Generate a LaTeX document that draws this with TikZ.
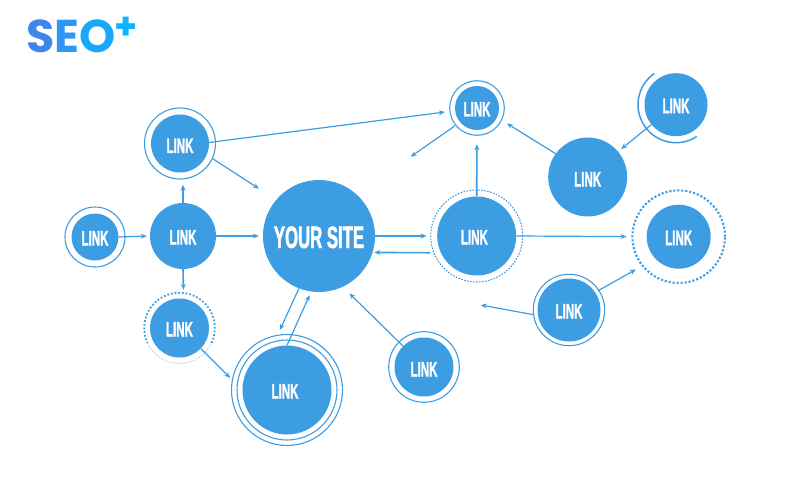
\documentclass[tikz,border=0pt]{standalone}
\usepackage{fontspec}
\newfontfamily\linkfont[FakeStretch=0.55,FakeBold=1.2,UprightFont={* Bold}]{Liberation Sans}
\newfontfamily\sitefont[FakeStretch=0.54,FakeBold=1.5,UprightFont={* Bold}]{Liberation Sans}
\newfontfamily\logofont{Poppins}
\usetikzlibrary{arrows.meta}
\definecolor{linkblue}{HTML}{3D9DE3}
\definecolor{logoS}{HTML}{3F86EC}
\definecolor{logoE}{HTML}{2E96F4}
\definecolor{logoO}{HTML}{18A8FB}
\definecolor{logoP}{HTML}{0DB4FF}
\tikzset{
  linknode/.style={circle, fill=linkblue, text=white, inner sep=0pt, text height=17pt, text depth=0pt, font=\linkfont\fontsize{21}{21}\selectfont},
  lowtext/.style={text height=19pt},
  ringline/.style={draw=linkblue, line width=1.1pt},
  flow/.style={draw=linkblue, line width=1.2pt, -{Stealth[length=6pt,width=5pt]}},
  heavyflow/.style={flow, line width=1.6pt},
}
\begin{document}
\begin{tikzpicture}[x=1pt, y=-1pt]
    \useasboundingbox (0,0) rectangle (800,500);
    % logo
    \node[inner sep=0pt, anchor=base west, font=\logofont\bfseries\fontsize{46}{46}\selectfont] (logo) at (26.5,52.5)
      {\textcolor{logoS}{S}\textcolor{logoE}{E}\textcolor{logoO}{O}\kern-3pt};
    \node[inner sep=0pt, text=logoP, font=\logofont\bfseries\fontsize{37}{37}\selectfont] (plus) at (126,28.5) {+};
    % nodes
    \node[linknode, minimum size=112pt, text height=24pt, font=\sitefont\fontsize{31}{31}\selectfont] (site) at (319,236) {YOUR SITE};
    \node[linknode, minimum size=47pt] (left) at (95,237) {LINK};
    \node[linknode, minimum size=66pt] (hub) at (183,236) {LINK};
    \node[linknode, lowtext, minimum size=58pt] (upper) at (180,143.5) {LINK};
    \node[linknode, minimum size=59pt] (lower) at (179.5,328) {LINK};
    \node[linknode, minimum size=89pt] (bottom) at (287,390) {\kern-4pt LINK};
    \node[linknode, lowtext, minimum size=59pt] (south) at (424,367) {LINK};
    \node[linknode, minimum size=79pt] (mid) at (476.7,236) {\kern-4.6pt LINK};
    \node[linknode, minimum size=44pt] (top) at (477,108) {LINK};
    \node[linknode, lowtext, minimum size=79pt] (north) at (587.7,177) {LINK};
    \node[linknode, minimum size=63pt] (corner) at (676,104.7) {LINK};
    \node[linknode, minimum size=64pt] (east) at (678.7,236.7) {LINK};
    \node[linknode, minimum size=63pt] (se) at (569,310) {LINK};
    \coordinate (endA) at (259,188.7);
    \coordinate (endB) at (410.7,156.7);
    \coordinate (endC) at (480.7,305);
    % rings
    \draw[ringline] (left) circle[radius=30pt];
    \draw[ringline] (upper) circle[radius=35.5pt];
    \draw[ringline] (bottom) circle[radius=50pt];
    \draw[ringline] (bottom) circle[radius=55.5pt];
    \draw[ringline] (south) circle[radius=35.3pt];
    \draw[ringline] (top) circle[radius=27.3pt];
    \draw[ringline] (se) circle[radius=35.7pt];
    \draw[ringline, dash pattern=on 1.6pt off 1.4pt] (mid) circle[radius=46pt];
    \draw[ringline, line width=2.1pt, dash pattern=on 2.1pt off 1.9pt] (east) circle[radius=46.3pt];
    \draw[ringline, line width=1.8pt, dash pattern=on 1.8pt off 1.9pt] (lower) ++(-25:35.3pt) arc[start angle=-25, end angle=205, radius=35.3pt];
    \draw[draw=linkblue!45, line width=1pt, dash pattern=on 1.5pt off 1.5pt] (lower) ++(205:35.3pt) arc[start angle=205, end angle=335, radius=35.3pt];
    \draw[draw=linkblue, line width=1.5pt] (corner) ++(125:38pt) arc[start angle=125, end angle=303, radius=38pt];
    % connectors
    \draw[flow, shorten >=3pt] (left.east) -- (hub.west);
    \draw[flow, shorten >=4pt] (hub.east) -- (site.west);
    \draw[heavyflow, shorten >=12.2pt] (hub.north) -- (upper.-84);
    \draw[heavyflow, shorten >=8.8pt] (hub.south) -- (lower.82);
    \draw[flow, shorten >=10.2pt] (upper.2) -- (top.187);
    \draw[flow, shorten <=7pt] (upper.-23) -- (endA);
    \draw[flow, shorten >=17.1pt] (lower.-44) -- (bottom.180);
    \draw[flow, shorten >=3.9pt] (bottom.90) -- (site.-98);
    \draw[flow, shorten >=19.8pt] (site.-111) -- (bottom.110);
    \draw[flow, shorten >=9.3pt] (south.135) -- (site.-65);
    \draw[flow, shorten >=10.5pt] (site.east) -- (mid.west);
    \draw[heavyflow, shorten <=10.3pt, shorten >=1.5pt] (mid.205.5) -- (site.-17);
    \draw[heavyflow, shorten >=14pt] (mid.north) -- (top.south);
    \draw[flow, shorten <=6pt] (top.220) -- (endB);
    \draw[flow, shorten >=11.5pt] (north.144) -- (top.-25);
    \draw[flow, shorten >=3.9pt] (corner.219) -- (north.40);
    \draw[flow, shorten >=20pt] (mid.east) -- (east.west);
    \draw[flow, shorten <=3pt, shorten >=22.1pt] (se.34) -- (east.223);
    \draw[flow, shorten <=4pt] (se.190) -- (endC);
\end{tikzpicture}
\end{document}
